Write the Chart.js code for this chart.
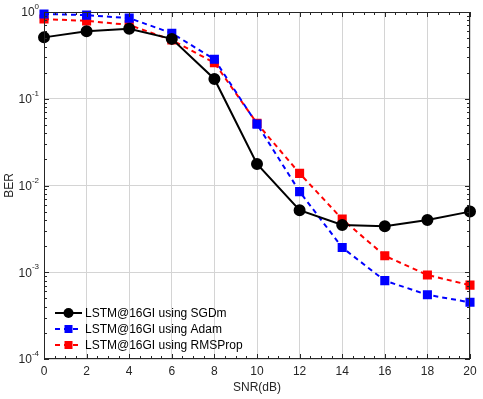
<!DOCTYPE html>
<html>
<head>
<meta charset="utf-8">
<script src="https://cdn.jsdelivr.net/npm/chart.js@4.4.1/dist/chart.umd.min.js"></script>
<style>
  html, body { margin: 0; padding: 0; background: #fff; }
  #wrap { width: 483px; height: 399px; }
</style>
</head>
<body>
<div id="wrap"><canvas id="grafico" width="483" height="399"></canvas></div>
<script>
const snr = [0, 2, 4, 6, 8, 10, 12, 14, 16, 18, 20];
const berSGDm = [0.51, 0.60, 0.64, 0.49, 0.169, 0.0177, 0.0052, 0.0035, 0.0034, 0.0040, 0.0050];
const berAdam = [0.95, 0.92, 0.85, 0.57, 0.285, 0.051, 0.0085, 0.00193, 0.00080, 0.00055, 0.00045];
const berRMSProp = [0.83, 0.79, 0.71, 0.475, 0.26, 0.052, 0.0138, 0.0041, 0.00155, 0.00093, 0.00071];
const yDecades = [1e-4, 1e-3, 1e-2, 1e-1, 1];
const nombres = ['LSTM@16GI using SGDm', 'LSTM@16GI using Adam', 'LSTM@16GI using RMSProp'];

const fuente = '"Liberation Sans", Arial, sans-serif';

function puntos(arr) {
  return arr.map((v, i) => ({x: snr[i], y: v}));
}

// box, minor ticks, y labels with exponent, and legend like the original figure
const marcoPlugin = {
  id: 'marco',
  afterDraw(chart) {
    const ctx = chart.ctx;
    const a = chart.chartArea;
    const xs = chart.scales.x, ys = chart.scales.y;
    ctx.save();
    ctx.strokeStyle = '#262626';
    ctx.lineWidth = 1;
    ctx.strokeRect(a.left + 0.5, a.top + 0.5, a.right - a.left - 1, a.bottom - a.top - 1);
    ctx.beginPath();
    for (let v = 0; v <= 20; v += 0.5) {
      const px = Math.round(xs.getPixelForValue(v)) + 0.5;
      const len = (v % 2 === 0) ? 5 : 3;
      ctx.moveTo(px, a.bottom); ctx.lineTo(px, a.bottom - len);
      ctx.moveTo(px, a.top); ctx.lineTo(px, a.top + len);
    }
    for (let d = -4; d <= 0; d++) {
      for (let m = 1; m <= 9; m++) {
        const v = m * Math.pow(10, d);
        if (v > 1) break;
        const py = Math.round(ys.getPixelForValue(v)) + 0.5;
        const len = (m === 1) ? 5 : 3;
        ctx.moveTo(a.left, py); ctx.lineTo(a.left + len, py);
        ctx.moveTo(a.right, py); ctx.lineTo(a.right - len, py);
      }
    }
    ctx.stroke();

    // y tick labels: 10 with raised exponent
    ctx.fillStyle = '#262626';
    ctx.textBaseline = 'middle';
    ctx.textAlign = 'left';
    yDecades.forEach(v => {
      const py = ys.getPixelForValue(v);
      const e = String(Math.round(Math.log10(v)));
      ctx.font = '8px ' + fuente;
      const we = ctx.measureText(e).width;
      ctx.font = '12px ' + fuente;
      const wb = ctx.measureText('10').width;
      const x0 = a.left - 5 - we - wb;
      ctx.fillText('10', x0, py + 1);
      ctx.font = '8px ' + fuente;
      ctx.fillText(e, x0 + wb, py - 5);
    });

    // legend
    const ds = chart.data.datasets;
    const lx = a.left + 11, ly0 = a.bottom - 46;
    ctx.font = '12px ' + fuente;
    ctx.textBaseline = 'middle';
    ds.forEach((d, i) => {
      const y = ly0 + i * 16;
      ctx.strokeStyle = d.borderColor;
      ctx.lineWidth = 2;
      ctx.setLineDash(d.borderDash || []);
      ctx.beginPath();
      ctx.moveTo(lx, y); ctx.lineTo(lx + 27, y);
      ctx.stroke();
      ctx.setLineDash([]);
      ctx.fillStyle = d.pointBackgroundColor;
      if (d.pointStyle === 'circle') {
        ctx.beginPath(); ctx.arc(lx + 13.5, y, 5, 0, Math.PI * 2); ctx.fill();
      } else {
        ctx.fillRect(lx + 13.5 - 4, y - 4, 8, 8);
      }
      ctx.fillStyle = '#000';
      ctx.fillText(d.label, lx + 30, y + 1);
    });
    ctx.restore();
  }
};

const ctx = document.getElementById('grafico').getContext('2d');
const grafico = new Chart(ctx, {
  type: 'line',
  data: {
    datasets: [
      { label: nombres[0], data: puntos(berSGDm), borderColor: '#000000', backgroundColor: '#000000',
        pointBackgroundColor: '#000000', pointBorderColor: '#000000', pointStyle: 'circle',
        pointRadius: 5, borderWidth: 2, tension: 0, clip: false },
      { label: nombres[1], data: puntos(berAdam), borderColor: '#0000ff', backgroundColor: '#0000ff',
        pointBackgroundColor: '#0000ff', pointBorderColor: '#0000ff', pointStyle: 'rect',
        pointRadius: 5, borderWidth: 2, borderDash: [5, 4], tension: 0, clip: false },
      { label: nombres[2], data: puntos(berRMSProp), borderColor: '#ff0000', backgroundColor: '#ff0000',
        pointBackgroundColor: '#ff0000', pointBorderColor: '#ff0000', pointStyle: 'rect',
        pointRadius: 5, borderWidth: 2, borderDash: [5, 4], tension: 0, clip: false }
    ]
  },
  options: {
    responsive: false,
    animation: false,
    layout: { padding: { top: 12, right: 13, left: 0, bottom: 0 } },
    plugins: { legend: { display: false }, tooltip: { enabled: false } },
    scales: {
      x: {
        type: 'linear', min: 0, max: 20,
        ticks: { stepSize: 2, color: '#262626', font: { family: fuente, size: 12 }, padding: 5 },
        grid: { color: '#d4d4d4', drawTicks: false },
        border: { display: false },
        title: { display: true, text: 'SNR(dB)', color: '#262626', font: { family: fuente, size: 12 }, padding: { top: 3 } },
        afterFit(s) { s.height = 40; }
      },
      y: {
        type: 'logarithmic', min: 1e-4, max: 1,
        afterBuildTicks(s) { s.ticks = yDecades.map(v => ({ value: v })); },
        ticks: { display: false },
        grid: { color: '#d4d4d4', drawTicks: false },
        border: { display: false },
        title: { display: true, text: 'BER', color: '#262626', font: { family: fuente, size: 12 }, padding: { top: 2, bottom: 0 } },
        afterFit(s) { s.width = 44; }
      }
    }
  },
  plugins: [marcoPlugin]
});
</script>
</body>
</html>
